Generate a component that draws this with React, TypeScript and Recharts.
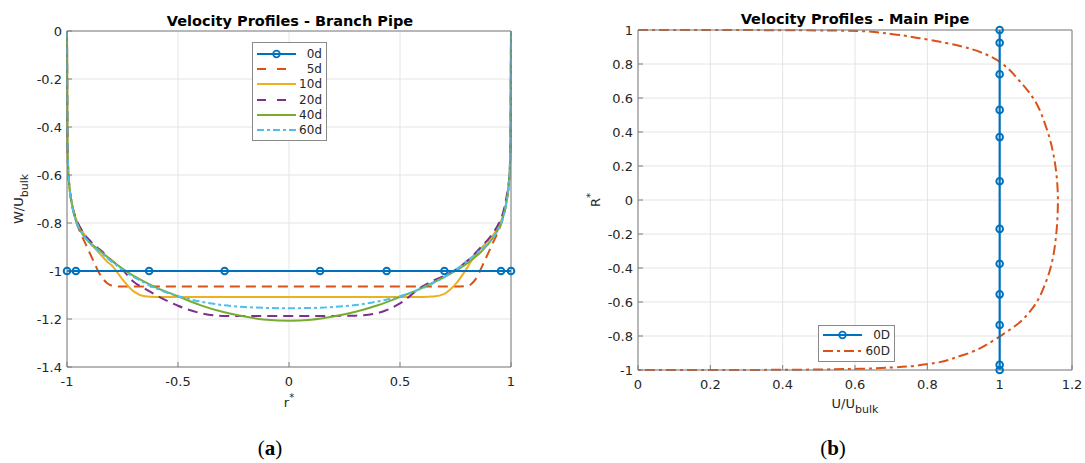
import React from "react";
import { LineChart, Line, XAxis, YAxis, CartesianGrid, Legend } from "recharts";

// Branch pipe: radial positions r* and W/U_bulk for each station
const branchR = [
  -1, -0.998, -0.995, -0.99, -0.98, -0.96, -0.94, -0.92, -0.9, -0.88, -0.86, -0.84, -0.82, -0.8,
  -0.75, -0.7, -0.65, -0.6, -0.5, -0.4, -0.3, -0.2, -0.1, 0, 0.1, 0.2, 0.3, 0.4, 0.5, 0.6, 0.65,
  0.7, 0.75, 0.8, 0.82, 0.84, 0.86, 0.88, 0.9, 0.92, 0.94, 0.96, 0.98, 0.99, 0.995, 0.998, 1,
];
const branch5d = [
  0, -0.45, -0.57, -0.64, -0.71, -0.79, -0.84, -0.88, -0.92, -0.96, -1.0, -1.03, -1.05, -1.06,
  -1.065, -1.065, -1.065, -1.065, -1.065, -1.065, -1.065, -1.065, -1.065, -1.065, -1.065, -1.065,
  -1.065, -1.065, -1.065, -1.065, -1.065, -1.065, -1.065, -1.062, -1.055, -1.035, -1.0, -0.96,
  -0.92, -0.88, -0.84, -0.79, -0.71, -0.64, -0.57, -0.45, 0,
];
const branch10d = [
  0, -0.45, -0.57, -0.64, -0.71, -0.78, -0.82, -0.85, -0.88, -0.9, -0.92, -0.94, -0.96, -0.975,
  -1.035, -1.085, -1.105, -1.108, -1.108, -1.108, -1.108, -1.108, -1.108, -1.108, -1.108, -1.108,
  -1.108, -1.108, -1.108, -1.108, -1.106, -1.095, -1.055, -0.99, -0.96, -0.935, -0.91, -0.89,
  -0.87, -0.85, -0.82, -0.78, -0.71, -0.64, -0.57, -0.45, 0,
];
const branch20d = [
  0, -0.45, -0.57, -0.64, -0.71, -0.78, -0.82, -0.85, -0.87, -0.89, -0.905, -0.92, -0.94, -0.955,
  -0.995, -1.045, -1.073, -1.1, -1.145, -1.175, -1.187, -1.187, -1.187, -1.187, -1.187, -1.187,
  -1.186, -1.175, -1.135, -1.065, -1.04, -1.02, -0.995, -0.96, -0.945, -0.925, -0.905, -0.885,
  -0.865, -0.84, -0.81, -0.77, -0.69, -0.63, -0.56, -0.45, 0,
];
const branch40d = [
  0, -0.45, -0.57, -0.64, -0.71, -0.79, -0.83, -0.86, -0.88, -0.895, -0.91, -0.925, -0.94, -0.955,
  -0.99, -1.02, -1.045, -1.068, -1.105, -1.142, -1.17, -1.19, -1.203, -1.207, -1.203, -1.19, -1.17,
  -1.143, -1.108, -1.07, -1.048, -1.025, -1.0, -0.97, -0.955, -0.94, -0.925, -0.905, -0.885, -0.86,
  -0.83, -0.79, -0.71, -0.64, -0.57, -0.45, 0,
];
const branch60d = [
  0, -0.45, -0.57, -0.64, -0.71, -0.79, -0.83, -0.86, -0.88, -0.9, -0.915, -0.93, -0.945, -0.96,
  -0.995, -1.025, -1.05, -1.072, -1.105, -1.127, -1.142, -1.15, -1.154, -1.155, -1.154, -1.15,
  -1.142, -1.127, -1.105, -1.072, -1.05, -1.025, -0.995, -0.96, -0.945, -0.93, -0.915, -0.9, -0.88,
  -0.86, -0.83, -0.79, -0.71, -0.64, -0.57, -0.45, 0,
];
const branch0dR = [-1, -0.96, -0.63, -0.29, 0.14, 0.44, 0.7, 0.955, 1];
const branch0dW = [-1, -1, -1, -1, -1, -1, -1, -1, -1];

// Main pipe: U/U_bulk against R*
const main0DR = [1, 0.925, 0.74, 0.53, 0.37, 0.11, -0.17, -0.375, -0.555, -0.735, -0.97, -1];
const main0DU = [1, 1, 1, 1, 1, 1, 1, 1, 1, 1, 1, 1];
const main60DR = [
  1, 0.999, 0.994, 0.975, 0.945, 0.906, 0.837, 0.798, 0.7, 0.602, 0.425, 0.229, -0.006, -0.28,
  -0.476, -0.633, -0.72, -0.79, -0.829, -0.918, -0.966, -0.985, -0.993, -0.999, -1,
];
const main60DU = [
  0, 0.4, 0.61, 0.705, 0.797, 0.89, 0.981, 1.009, 1.055, 1.092, 1.129, 1.152, 1.161, 1.152,
  1.129, 1.092, 1.055, 1.009, 0.981, 0.89, 0.797, 0.705, 0.61, 0.4, 0,
];

const branchXTicks = [-1, -0.5, 0, 0.5, 1];
const branchYTicks = [-1.4, -1.2, -1, -0.8, -0.6, -0.4, -0.2, 0];
const mainXTicks = [0, 0.2, 0.4, 0.6, 0.8, 1, 1.2];
const mainYTicks = [-1, -0.8, -0.6, -0.4, -0.2, 0, 0.2, 0.4, 0.6, 0.8, 1];

const branchData = branchR.map((r, i) => ({
  r,
  d5: branch5d[i],
  d10: branch10d[i],
  d20: branch20d[i],
  d40: branch40d[i],
  d60: branch60d[i],
}));
const branch0d = branch0dR.map((r, i) => ({ r, w: branch0dW[i] }));
const main0D = main0DR.map((r, i) => ({ u: main0DU[i], r }));
const main60D = main60DR.map((r, i) => ({ u: main60DU[i], r }));

const BLUE = "#0072BD";
const ORANGE = "#D95319";
const AXIS = "#7f7f7f";
const TEXT = "#262626";
const GRID = "#e4e4e4";

const branchSeries = [
  { name: "0d", color: BLUE, dash: undefined, marker: true },
  { name: "5d", color: ORANGE, dash: "9 11", marker: false },
  { name: "10d", color: "#EDB120", dash: undefined, marker: false },
  { name: "20d", color: "#7E2F8E", dash: "9 11", marker: false },
  { name: "40d", color: "#77AC30", dash: undefined, marker: false },
  { name: "60d", color: "#4DBEEE", dash: "7 3 3 3", marker: false },
];
const mainSeries = [
  { name: "0D", color: BLUE, dash: undefined, marker: true },
  { name: "60D", color: ORANGE, dash: "10 4 3 4", marker: false },
];

const marker = { r: 3.3, fill: "none", stroke: BLUE, strokeWidth: 2 };
const tickStyle = { fill: TEXT, fontSize: 13 };

function legendBox(series: typeof branchSeries, width: number, rowH: number, padTop: number) {
  return () => (
    <div
      style={{
        boxSizing: "border-box",
        width,
        border: "1px solid #8a8a8a",
        background: "#fff",
        padding: `${padTop}px 4px 2px 4px`,
      }}
    >
      {series.map((s) => (
        <div key={s.name} style={{ display: "flex", alignItems: "center", height: rowH }}>
          <svg width={39} height={10} style={{ display: "block" }}>
            <line x1={0} y1={5} x2={39} y2={5} stroke={s.color} strokeWidth={2} strokeDasharray={s.dash} />
            {s.marker && <circle cx={19.5} cy={5} r={3.3} fill="none" stroke={s.color} strokeWidth={1.8} />}
          </svg>
          <span style={{ flex: 1, textAlign: "right", fontSize: 12, color: TEXT, lineHeight: "12px" }}>
            {s.name}
          </span>
        </div>
      ))}
    </div>
  );
}

const branchXLabel = (p: any) => (
  <text x={p.viewBox.x + p.viewBox.width / 2} y={p.viewBox.y + 40} textAnchor="middle" fontSize={13} fill={TEXT}>
    r<tspan dy={-6} fontSize={10}>*</tspan>
  </text>
);
const branchYLabel = (p: any) => {
  const cx = p.viewBox.x - 4;
  const cy = p.viewBox.y + p.viewBox.height / 2;
  return (
    <text transform={`translate(${cx},${cy}) rotate(-90)`} textAnchor="middle" fontSize={13} fill={TEXT}>
      W/U<tspan dy={5} fontSize={11}>bulk</tspan>
    </text>
  );
};
const mainXLabel = (p: any) => (
  <text x={p.viewBox.x + p.viewBox.width / 2} y={p.viewBox.y + 38} textAnchor="middle" fontSize={13} fill={TEXT}>
    U/U<tspan dy={5} fontSize={11}>bulk</tspan>
  </text>
);
const mainYLabel = (p: any) => {
  const cx = p.viewBox.x + 1.5;
  const cy = p.viewBox.y + p.viewBox.height / 2;
  return (
    <text transform={`translate(${cx},${cy}) rotate(-90)`} textAnchor="middle" fontSize={13} fill={TEXT}>
      R<tspan dy={-6} fontSize={10}>*</tspan>
    </text>
  );
};

const titleStyle: React.CSSProperties = {
  position: "absolute",
  textAlign: "center",
  fontWeight: "bold",
  fontSize: 14.5,
  lineHeight: "16px",
  color: "#000",
  whiteSpace: "nowrap",
};
const captionStyle: React.CSSProperties = {
  position: "absolute",
  width: 100,
  top: 436,
  textAlign: "center",
  fontFamily: "Liberation Serif",
  fontSize: 21,
  lineHeight: "24px",
};

export default function App() {
  return (
    <div
      style={{
        position: "absolute",
        left: 0,
        top: 0,
        width: 1085,
        height: 463,
        background: "#fff",
        fontFamily: "DejaVu Sans",
      }}
    >
      <div style={{ ...titleStyle, left: 140, width: 300, top: 13 }}>Velocity Profiles - Branch Pipe</div>
      <div style={{ ...titleStyle, left: 705, width: 300, top: 11 }}>Velocity Profiles - Main Pipe</div>

      <div style={{ position: "absolute", left: 0, top: 0 }}>
        <LineChart width={540} height={420} margin={{ top: 31, right: 29, bottom: 23, left: 27 }}>
          <CartesianGrid stroke={GRID} />
          <XAxis
            dataKey="r"
            type="number"
            domain={[-1, 1]}
            ticks={branchXTicks}
            height={30}
            tickSize={-5}
            tickMargin={15}
            tick={tickStyle}
            stroke={AXIS}
            label={branchXLabel}
          />
          <XAxis xAxisId="top" orientation="top" mirror type="number" domain={[-1, 1]} ticks={branchXTicks} tick={false} tickSize={5} stroke={AXIS} />
          <YAxis
            type="number"
            domain={[-1.4, 0]}
            ticks={branchYTicks}
            width={40}
            tickSize={-5}
            tickMargin={10}
            tick={tickStyle}
            stroke={AXIS}
            label={branchYLabel}
          />
          <YAxis yAxisId="right" orientation="right" mirror type="number" domain={[-1.4, 0]} ticks={branchYTicks} tick={false} tickSize={5} stroke={AXIS} />
          <Line data={branchData} dataKey="d5" type="monotone" stroke={branchSeries[1].color} strokeWidth={2} strokeDasharray="10 6" dot={false} isAnimationActive={false} />
          <Line data={branchData} dataKey="d10" type="monotone" stroke={branchSeries[2].color} strokeWidth={2} dot={false} isAnimationActive={false} />
          <Line data={branchData} dataKey="d20" type="monotone" stroke={branchSeries[3].color} strokeWidth={2} strokeDasharray="10 6" dot={false} isAnimationActive={false} />
          <Line data={branchData} dataKey="d40" type="monotone" stroke={branchSeries[4].color} strokeWidth={2} dot={false} isAnimationActive={false} />
          <Line data={branchData} dataKey="d60" type="monotone" stroke={branchSeries[5].color} strokeWidth={2} strokeDasharray="7 3 3 3" dot={false} isAnimationActive={false} />
          <Line data={branch0d} dataKey="w" type="linear" stroke={BLUE} strokeWidth={2.2} dot={marker} isAnimationActive={false} />
          <Legend
            layout="vertical"
            align="center"
            verticalAlign="middle"
            content={legendBox(branchSeries, 75, 15.3, 3)}
            wrapperStyle={{ left: 252, top: 42, width: 75 }}
          />
        </LineChart>
      </div>

      <div style={{ position: "absolute", left: 540, top: 0 }}>
        <LineChart width={545} height={420} margin={{ top: 30, right: 13, bottom: 20, left: 58 }}>
          <CartesianGrid stroke={GRID} />
          <XAxis
            dataKey="u"
            type="number"
            domain={[0, 1.2]}
            ticks={mainXTicks}
            height={30}
            tickSize={-5}
            tickMargin={15}
            tick={tickStyle}
            stroke={AXIS}
            label={mainXLabel}
          />
          <XAxis xAxisId="top" orientation="top" mirror type="number" domain={[0, 1.2]} ticks={mainXTicks} tick={false} tickSize={5} stroke={AXIS} />
          <YAxis
            type="number"
            domain={[-1, 1]}
            ticks={mainYTicks}
            width={40}
            tickSize={-5}
            tickMargin={10}
            tick={tickStyle}
            stroke={AXIS}
            label={mainYLabel}
          />
          <YAxis yAxisId="right" orientation="right" mirror type="number" domain={[-1, 1]} ticks={mainYTicks} tick={false} tickSize={5} stroke={AXIS} />
          <Line data={main60D} dataKey="r" type="monotoneY" stroke={ORANGE} strokeWidth={2} strokeDasharray="10 4 3 4" dot={false} isAnimationActive={false} />
          <Line data={main0D} dataKey="r" type="linear" stroke={BLUE} strokeWidth={2.2} dot={marker} isAnimationActive={false} />
          <Legend
            layout="vertical"
            align="center"
            verticalAlign="middle"
            content={legendBox(mainSeries, 77, 16, 1)}
            wrapperStyle={{ left: 278, top: 325, width: 77 }}
          />
        </LineChart>
      </div>

      <div style={{ ...captionStyle, left: 220 }}>
        (<b>a</b>)
      </div>
      <div style={{ ...captionStyle, left: 783 }}>
        (<b>b</b>)
      </div>
    </div>
  );
}
